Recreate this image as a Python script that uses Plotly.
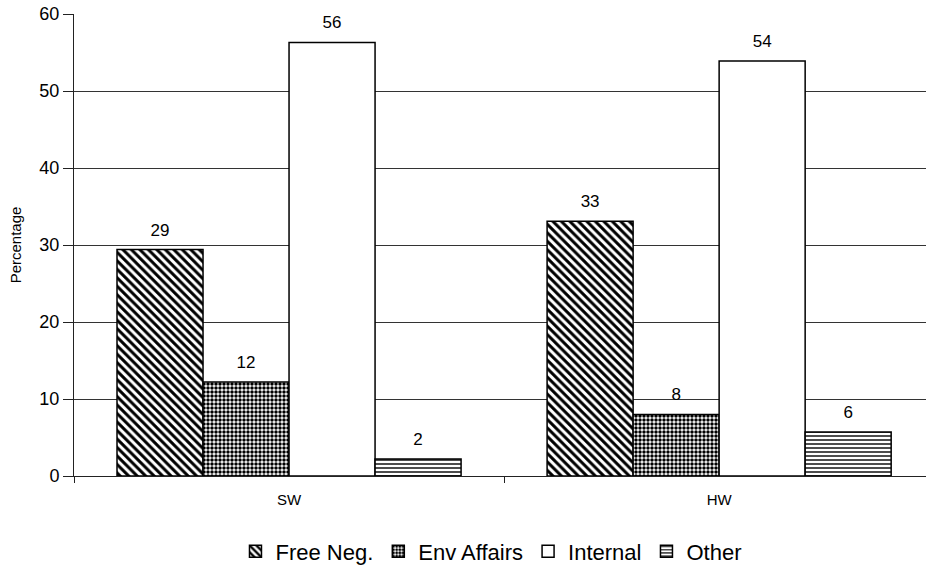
import plotly.graph_objects as go

categories = ["SW", "HW"]
series_names = ["Free Neg.", "Env Affairs", "Internal", "Other"]
free_neg = [29.4, 33.1]
env_affairs = [12.2, 8.0]
internal = [56.3, 53.9]
other = [2.2, 5.7]
y_ticks = [0, 10, 20, 30, 40, 50, 60]

values = [free_neg, env_affairs, internal, other]
patterns = [
    dict(shape="\\", size=6, solidity=0.5, fgcolor="black", bgcolor="white", fgopacity=1),
    dict(shape=".", size=4, solidity=0.6, fgcolor="black", bgcolor="white", fgopacity=1),
    dict(shape="", fgcolor="black", bgcolor="white"),
    dict(shape="-", size=4, solidity=0.35, fgcolor="black", bgcolor="white", fgopacity=1),
]

fig = go.Figure()
for i, (name, vals, pat) in enumerate(zip(series_names, values, patterns)):
    fig.add_trace(go.Bar(
        name=name,
        x=categories,
        y=vals,
        offsetgroup=str(i),
        alignmentgroup="g",
        marker=dict(color="white", pattern=pat,
                    line=dict(color="black", width=1.5)),
    ))

# value labels above each bar, grouped the same way as the bars
for i, (name, vals) in enumerate(zip(series_names, values)):
    fig.add_trace(go.Scatter(
        x=categories,
        y=vals,
        mode="markers+text",
        text=[f"{v:.0f}" for v in vals],
        textposition="top center",
        textfont=dict(size=17, color="black", family="Liberation Sans, Arial"),
        marker=dict(size=14, color="rgba(0,0,0,0)"),
        offsetgroup=str(i),
        alignmentgroup="g",
        showlegend=False,
        hoverinfo="skip",
        cliponaxis=False,
    ))

fig.update_layout(
    width=926, height=569,
    margin=dict(l=74, r=0, t=14, b=93, autoexpand=False),
    paper_bgcolor="white",
    plot_bgcolor="white",
    barmode="group",
    scattermode="group",
    bargap=0.2,
    bargroupgap=0,
    scattergap=0.2,
    font=dict(family="Liberation Sans, Arial", color="black"),
    showlegend=True,
    legend=dict(orientation="h", x=0.49, xref="paper", xanchor="center",
                y=-0.118, yanchor="top",
                font=dict(size=22, color="black"),
                itemwidth=30, tracegroupgap=0),
    xaxis=dict(
        range=[-0.5, 1.481],
        showline=True, linecolor="#222", linewidth=1,
        ticks="outside", tickson="boundaries", ticklen=6, tickcolor="#222",
        tickfont=dict(size=15),
        ticklabelstandoff=10,
        showgrid=False,
    ),
    yaxis=dict(
        range=[0, 60],
        tickvals=y_ticks,
        showline=True, linecolor="#222", linewidth=1,
        ticks="outside", ticklen=10, tickcolor="#222",
        tickfont=dict(size=18),
        showgrid=True, gridcolor="#333", gridwidth=1,
        zeroline=False,
        title=dict(text="Percentage", font=dict(size=15), standoff=14),
    ),
)

fig.write_html("out.html")
